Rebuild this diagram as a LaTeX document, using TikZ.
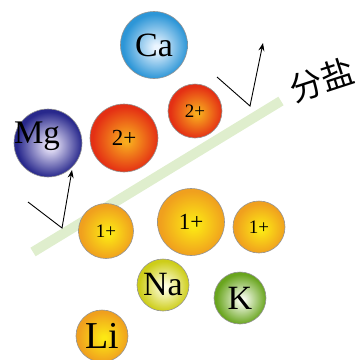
\documentclass[tikz,border=0pt]{standalone}
\usepackage{fontspec}
\setmainfont{Liberation Serif}
\newfontfamily\cjkfont{Noto Sans CJK SC}
\usetikzlibrary{arrows.meta}
\definecolor{orbin}{RGB}{255,255,255}
\definecolor{orbout}{RGB}{0,0,0}
\definecolor{caout}{RGB}{45,150,215}
\definecolor{cain}{RGB}{235,245,255}
\definecolor{mgout}{RGB}{40,40,140}
\definecolor{mgin}{RGB}{235,230,250}
\definecolor{twoout}{RGB}{228,48,20}
\definecolor{twoin}{RGB}{248,172,30}
\definecolor{oneout}{RGB}{240,160,30}
\definecolor{onein}{RGB}{252,232,20}
\definecolor{naout}{RGB}{205,205,25}
\definecolor{nain}{RGB}{255,255,225}
\definecolor{kout}{RGB}{105,165,30}
\definecolor{kin}{RGB}{248,252,240}
\definecolor{barcol}{RGB}{223,238,205}
\pgfdeclareradialshading[orbin,orbout]{orb}{\pgfpoint{2bp}{-2bp}}{color(0bp)=(orbin); color(2bp)=(orbin); color(24bp)=(orbout); color(50bp)=(orbout)}
\newcommand\fsz[1]{\fontsize{#1}{#1}\selectfont}
\tikzset{
  orbnode/.style n args={3}{circle, draw=gray!85, line width=0.6pt, inner sep=0pt, minimum size=#1,
    /utils/exec={\colorlet{orbin}{#2}\colorlet{orbout}{#3}}, shading=orb},
}
\begin{document}
\begin{tikzpicture}[x=1pt,y=-1pt]
\useasboundingbox (0,0) rectangle (357,360);
% salt bridge
\coordinate (bara) at (33,252);
\coordinate (barb) at (281,101);
\draw[barcol, line width=10pt] (bara) -- (barb);
\node[rotate=18, inner sep=0pt, font=\cjkfont\fsz{33}] (fenyan) at (322,80) {分盐};
% ions
\node[orbnode={67pt}{cain}{caout}, font=\fsz{34}] (ca) at (154,45) {Ca};
\node[orbnode={68pt}{mgin}{mgout}] (mg) at (48,143) {};
\node[font=\fsz{33}] (mglabel) at (37,136) {Mg};
\node[orbnode={68pt}{twoin}{twoout}, font=\fsz{23}] (twoa) at (124,138) {2+};
\node[orbnode={54pt}{twoin}{twoout}, font=\fsz{19}] (twob) at (195,111) {2+};
\node[orbnode={55pt}{onein}{oneout}, font=\fsz{19}] (onea) at (106,231) {1+};
\node[orbnode={67pt}{onein}{oneout}, font=\fsz{23}] (oneb) at (191,222) {1+};
\node[orbnode={52pt}{onein}{oneout}, font=\fsz{19}] (onec) at (259,227) {1+};
\node[orbnode={52pt}{nain}{naout}, font=\fsz{34}] (na) at (163,285) {Na};
\node[orbnode={52pt}{kin}{kout}, font=\fsz{34}] (k) at (240,298) {K};
\node[orbnode={52pt}{onein}{oneout}, font=\fsz{38}] (li) at (102,336) {Li};
% check arrows
\coordinate (cka) at (217,77);
\coordinate (ckb) at (250,106);
\coordinate (ckc) at (263,43);
\draw[line width=0.9pt, -{Stealth[length=8pt,width=6pt]}] (cka) -- (ckb) -- (ckc);
\coordinate (cla) at (28,202);
\coordinate (clb) at (62,228);
\coordinate (clc) at (72,170);
\draw[line width=0.9pt, -{Stealth[length=8pt,width=6pt]}] (cla) -- (clb) -- (clc);
\end{tikzpicture}
\end{document}
